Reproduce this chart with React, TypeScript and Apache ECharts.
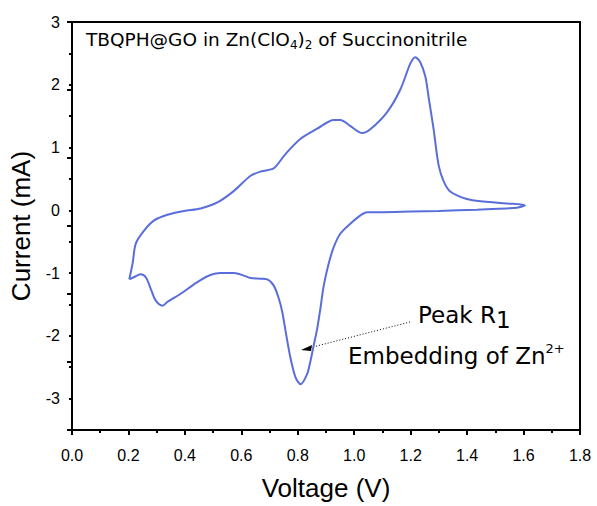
import React, { useEffect, useRef } from "react";
import * as echarts from "echarts";

// Cyclic voltammogram: anodic sweep 0.2 V -> 1.6 V, then cathodic sweep back to 0.2 V
const voltage = [
  0.203, 0.215, 0.226, 0.256, 0.291, 0.338, 0.397, 0.456, 0.515, 0.574,
  0.633, 0.67, 0.715, 0.757, 0.81, 0.869, 0.928, 0.951, 0.987, 1.028,
  1.057, 1.116, 1.163, 1.199, 1.216, 1.234, 1.252, 1.263, 1.281, 1.299,
  1.317, 1.34, 1.399, 1.458, 1.541, 1.605,
  1.576, 1.54, 1.435, 1.3, 1.2, 1.1, 1.046, 1.022, 0.987, 0.951,
  0.928, 0.91, 0.892, 0.88, 0.869, 0.857, 0.845, 0.833, 0.81, 0.792,
  0.774, 0.757, 0.745, 0.733, 0.715, 0.692, 0.668, 0.633, 0.609, 0.574,
  0.527, 0.48, 0.432, 0.385, 0.338, 0.321, 0.297, 0.279, 0.262, 0.244,
  0.226, 0.203,
];

const current = [
  -1.1, -0.84, -0.53, -0.32, -0.16, -0.07, -0.01, 0.03, 0.125, 0.31,
  0.55, 0.62, 0.67, 0.9, 1.14, 1.3, 1.44, 1.44, 1.34, 1.23,
  1.29, 1.56, 1.92, 2.34, 2.44, 2.36, 2.13, 1.82, 1.3, 0.72,
  0.46, 0.3, 0.18, 0.14, 0.11, 0.08,
  0.04, 0.03, 0.01, -0.01, -0.02, -0.03, -0.03, -0.08, -0.21, -0.37,
  -0.58, -0.84, -1.2, -1.57, -1.88, -2.14, -2.4, -2.61, -2.77, -2.66,
  -2.35, -1.93, -1.62, -1.41, -1.2, -1.1, -1.09, -1.08, -1.04, -1.0,
  -1.0, -1.05, -1.18, -1.33, -1.46, -1.52, -1.44, -1.25, -1.07, -1.02,
  -1.05, -1.1,
];

const yMajorTicks = [-3, -2, -1, 0, 1, 2, 3];

const FONT = "Arial, 'Liberation Sans', sans-serif";
const WIDE_FONT = "'DejaVu Sans', Arial, sans-serif";

export default function App() {
  const ref = useRef<HTMLDivElement>(null);

  useEffect(() => {
    if (!ref.current) return;
    const chart = echarts.init(ref.current, undefined, { renderer: "svg" });
    const points = voltage.map((v, i) => [v, current[i]]);

    const axisLine = { show: true, onZero: false, lineStyle: { color: "#000", width: 2 } };
    const tickStyle = { color: "#000", width: 2 };

    chart.setOption({
      animation: false,
      backgroundColor: "#fff",
      grid: {
        left: 71,
        right: 17,
        top: 22,
        bottom: 68,
        show: true,
        borderColor: "#000",
        borderWidth: 2,
      },
      xAxis: {
        type: "value",
        min: 0,
        max: 1.8,
        interval: 0.2,
        axisLine,
        axisTick: { show: true, inside: false, length: 5, lineStyle: tickStyle },
        minorTick: { show: true, splitNumber: 2, length: 3, lineStyle: tickStyle },
        splitLine: { show: false },
        axisLabel: {
          color: "#000",
          fontFamily: FONT,
          fontSize: 16,
          margin: 17,
          formatter: (v: number) => v.toFixed(1),
        },
        name: "Voltage (V)",
        nameLocation: "middle",
        nameGap: 45,
        nameTextStyle: { color: "#000", fontFamily: FONT, fontSize: 26 },
      },
      yAxis: [
        {
          type: "value",
          min: -3.5,
          max: 3,
          interval: 0.5,
          axisLine,
          axisTick: { show: false },
          minorTick: { show: false },
          splitLine: { show: false },
          axisLabel: {
            color: "#000",
            fontFamily: FONT,
            fontSize: 16,
            margin: 12,
            formatter: (v: number) => (yMajorTicks.includes(v) ? String(v) : ""),
          },
          name: "Current (mA)",
          nameLocation: "middle",
          nameGap: 38,
          nameTextStyle: { color: "#000", fontFamily: FONT, fontSize: 26 },
        },
        {
          // outward ticks: 0.5 mA minor
          type: "value",
          min: -3.5,
          max: 3,
          interval: 0.5,
          position: "left",
          axisLine: { show: false, onZero: false },
          axisTick: { show: true, inside: false, length: 3, lineStyle: tickStyle },
          axisLabel: { show: false },
          splitLine: { show: false },
        },
        {
          // outward ticks: 1 mA major
          type: "value",
          min: -3,
          max: 3,
          interval: 1,
          position: "left",
          axisLine: { show: false, onZero: false },
          axisTick: { show: true, inside: false, length: 5, lineStyle: tickStyle },
          axisLabel: { show: false },
          splitLine: { show: false },
        },
      ],
      series: [
        {
          type: "line",
          data: points,
          showSymbol: false,
          smooth: 0.3,
          lineStyle: { color: "#5a6edb", width: 2 },
        },
      ],
      graphic: [
        {
          type: "text",
          left: 86,
          top: 30,
          style: {
            text: "TBQPH@GO in Zn(ClO{sub|4}){sub|2} of Succinonitrile",
            font: `18.5px ${WIDE_FONT}`,
            fill: "#000",
            rich: {
              sub: { fontSize: 12, fontFamily: WIDE_FONT, padding: [10, 0, 0, 0], fill: "#000" },
            },
          },
        },
        {
          type: "text",
          left: 418,
          top: 303,
          style: {
            text: "Peak R{sub|1}",
            font: `23px ${WIDE_FONT}`,
            fill: "#000",
            rich: {
              sub: { fontSize: 23, fontFamily: WIDE_FONT, padding: [10, 0, 0, 0], fill: "#000" },
            },
          },
        },
        {
          type: "text",
          left: 348,
          top: 342,
          style: {
            text: "Embedding of Zn{sup|2+}",
            font: `23px ${WIDE_FONT}`,
            fill: "#000",
            rich: {
              sup: { fontSize: 13, fontFamily: WIDE_FONT, padding: [0, 0, 14, 0], fill: "#000" },
            },
          },
        },
        {
          type: "line",
          shape: { x1: 410, y1: 322, x2: 309, y2: 348 },
          style: { stroke: "#000", lineWidth: 1, lineDash: [1, 2] },
        },
        {
          type: "polygon",
          shape: { points: [[301, 350], [312, 345], [311, 351]] },
          style: { fill: "#000" },
        },
      ],
    });

    return () => chart.dispose();
  }, []);

  return (
    <div
      ref={ref}
      style={{ position: "fixed", left: 0, top: 0, width: 597, height: 506 }}
    />
  );
}
